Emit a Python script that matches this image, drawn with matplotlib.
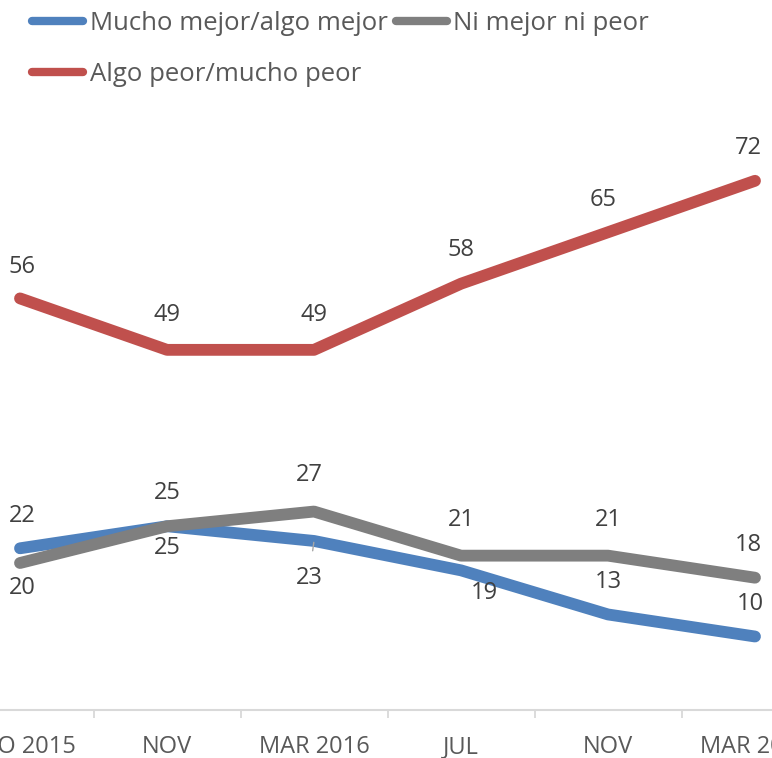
import numpy as np
import matplotlib
matplotlib.use("Agg")
import matplotlib.pyplot as plt
from matplotlib.lines import Line2D

plt.rcParams['font.family'] = ['Open Sans', 'DejaVu Sans']

periods = ["AGO 2015", "NOV", "MAR 2016", "JUL", "NOV", "MAR 2017"]
mejor = [22, 25, 23, 19, 13, 10]
igual = [20, 25, 27, 21, 21, 18]
peor = [56, 49, 49, 58, 65, 72]

names = ["Mucho mejor/algo mejor", "Ni mejor ni peor", "Algo peor/mucho peor"]
colors = ["#4f81bd", "#7f7f7f", "#c0504d"]

# label offsets in pixels (dx, dy), y up
offs_mejor = [(2, 32), (0, 33), (-5, -37), (23, -23), (0, 32), (-5, 33)]
offs_igual = [(2, -25), (0, -22), (-5, 37), (0, 36), (0, 36), (-7, 33)]
offs_peor = [(2, 31), (0, 35), (0, 35), (0, 34), (-5, 32), (-7, 33)]

W, H = 772, 758
fig = plt.figure(figsize=(W / 100, H / 100), dpi=100)
ax = fig.add_axes([-53.5 / W, 48 / H, 882 / W, 588 / H])

x = np.arange(len(periods))
for vals, c, name in zip([mejor, igual, peor], colors, names):
    ax.plot(x, vals, color=c, lw=8.5, solid_capstyle='round',
            solid_joinstyle='round', label=name)

fs = 17
px = 72 / 100
for vals, offs in zip([mejor, igual, peor], [offs_mejor, offs_igual, offs_peor]):
    for i, (v, o) in enumerate(zip(vals, offs)):
        kw = {}
        if vals is mejor and i == 2:
            kw = dict(arrowprops=dict(arrowstyle='-', color='#a6a6a6', lw=1,
                                      shrinkA=9, shrinkB=1))
        ax.annotate(str(v), (x[i], v), xytext=(o[0] * px, o[1] * px),
                    textcoords='offset points', ha='center', va='center',
                    fontsize=fs, color='#404040', **kw)

ax.set_xlim(-0.5, 5.5)
ax.set_ylim(0, 80)
ax.set_xticks(x)
ax.set_xticklabels(periods)
ax.set_xticks(np.arange(-0.5, 6, 1), minor=True)
ax.tick_params(axis='x', which='major', length=0, pad=18, labelsize=fs,
               labelcolor='#595959')
ax.tick_params(axis='x', which='minor', length=6, width=1.3, color='#d9d9d9',
               direction='out')
ax.set_yticks([])
for s in ['top', 'right', 'left']:
    ax.spines[s].set_visible(False)
ax.spines['bottom'].set_color('#d9d9d9')
ax.spines['bottom'].set_linewidth(1.5)

# legend proxies (thinner lines than the series)
hnd = [Line2D([], [], color=c, lw=6, solid_capstyle='round') for c in colors]
fig.legend(handles=[hnd[0], hnd[2], hnd[1]],
           labels=[names[0], names[2], names[1]], ncol=2, loc='upper left',
           bbox_to_anchor=(32 / W, 1 - 11 / H), frameon=False, fontsize=18.5,
           handlelength=2.0, handletextpad=0.24, columnspacing=0.32,
           labelspacing=1.0, borderpad=0, borderaxespad=0,
           labelcolor='#595959')

fig.savefig("out.png", dpi=100)
